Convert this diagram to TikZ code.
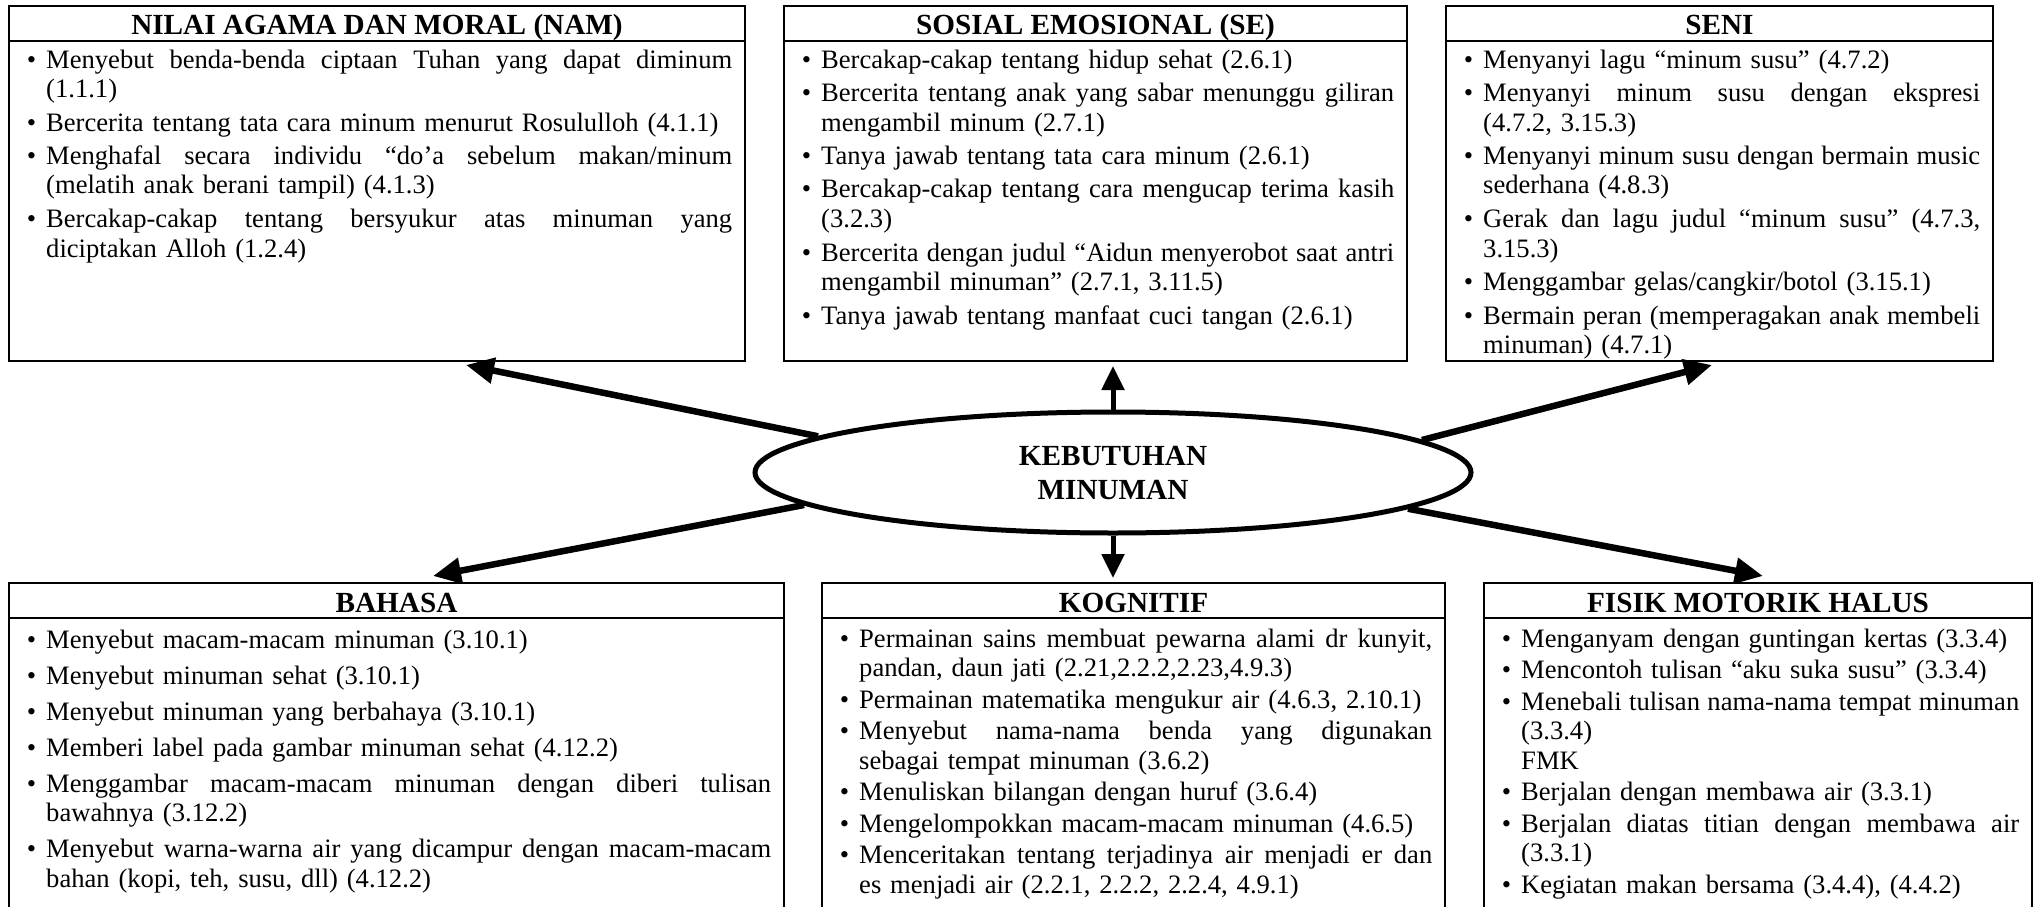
\documentclass[tikz,border=0pt]{standalone}
\usepackage{fontspec}
\setmainfont{Liberation Serif}
\usetikzlibrary{shapes.geometric,arrows.meta}
\newcommand\bodyfont{\fontsize{26.6pt}{29.5pt}\selectfont}
\newcommand\headfont{\fontsize{29.2pt}{34pt}\selectfont\bfseries}
\newlength\itemgap
\setlength\itemgap{4pt}
\newlength\tw
\newcommand\bfirst{\noindent\llap{\textbullet\hspace{10pt}}}
\newcommand\bnext{\par\vspace{\itemgap}\noindent\llap{\textbullet\hspace{10pt}}}
\newcommand\jl[1]{\hbox to\tw{\spaceskip=\fontdimen2\font plus 1fil minus \fontdimen4\font\relax #1}\newline}
\tikzset{
  panel/.style={draw, line width=2.6pt, anchor=north west, inner sep=0pt, outer sep=0pt},
  rulel/.style={line width=2.6pt},
  ttl/.style={font=\headfont, anchor=base, inner sep=0pt},
  body/.style={font=\bodyfont, anchor=base west, inner sep=0pt},
  hub/.style={ellipse, draw, line width=5pt, minimum width=716pt, minimum height=121pt,
              inner sep=0pt, align=center, font=\headfont},
  arrD/.style={line width=6.5pt, -{Triangle[length=28pt,width=25pt]}},
  arrV/.style={line width=5pt, -{Triangle[length=24pt,width=22pt]}},
}
\begin{document}
\begin{tikzpicture}[x=1pt,y=-1pt]
\useasboundingbox (0,0) rectangle (2037,907);
\clip (0,0) rectangle (2037,907);
% top row
\node[panel, minimum width=736pt, minimum height=355pt] (nam) at (9,6) {};
\draw[rulel] (9,41) -- (745,41);
\node[ttl] (namT) at (377,35) {NILAI AGAMA DAN MORAL (NAM)};
\node[body, text width=686pt] (namB) at (46,68) {\setlength\tw{686pt}%
\bfirst\jl{Menyebut benda-benda ciptaan Tuhan yang dapat diminum}(1.1.1)
\bnext Bercerita tentang tata cara minum menurut Rosululloh (4.1.1)
\bnext\jl{Menghafal secara individu “do’a sebelum makan/minum}(melatih anak berani tampil) (4.1.3)
\bnext\jl{Bercakap-cakap tentang bersyukur atas minuman yang}diciptakan Alloh (1.2.4)};

\node[panel, minimum width=623pt, minimum height=355pt] (se) at (784,6) {};
\draw[rulel] (784,41) -- (1407,41);
\node[ttl] (seT) at (1095.5,35) {SOSIAL EMOSIONAL (SE)};
\node[body, text width=573pt] (seB) at (821,68) {\setlength\tw{573pt}%
\bfirst Bercakap-cakap tentang hidup sehat (2.6.1)
\bnext\jl{Bercerita tentang anak yang sabar menunggu giliran}mengambil minum (2.7.1)
\bnext Tanya jawab tentang tata cara minum (2.6.1)
\bnext\jl{Bercakap-cakap tentang cara mengucap terima kasih}(3.2.3)
\bnext\jl{Bercerita dengan judul “Aidun menyerobot saat antri}mengambil minuman” (2.7.1, 3.11.5)
\bnext Tanya jawab tentang manfaat cuci tangan (2.6.1)};

\node[panel, minimum width=547pt, minimum height=355pt] (seni) at (1446,6) {};
\draw[rulel] (1446,41) -- (1993,41);
\node[ttl] (seniT) at (1719.5,35) {SENI};
\node[body, text width=497pt] (seniB) at (1483,68) {\setlength\tw{497pt}%
\bfirst Menyanyi lagu “minum susu” (4.7.2)
\bnext\jl{Menyanyi minum susu dengan ekspresi}(4.7.2, 3.15.3)
\bnext\jl{Menyanyi minum susu dengan bermain music}sederhana (4.8.3)
\bnext\jl{Gerak dan lagu judul “minum susu” (4.7.3,}3.15.3)
\bnext Menggambar gelas/cangkir/botol (3.15.1)
\bnext\jl{Bermain peran (memperagakan anak membeli}minuman) (4.7.1)};

% bottom row
\node[panel, minimum width=775pt, minimum height=345pt] (bah) at (9,583) {};
\draw[rulel] (9,618) -- (784,618);
\node[ttl] (bahT) at (396.5,612) {BAHASA};
\node[body, text width=725pt] (bahB) at (46,648) {\setlength\tw{725pt}\setlength\itemgap{6.5pt}%
\bfirst Menyebut macam-macam minuman (3.10.1)
\bnext Menyebut minuman sehat (3.10.1)
\bnext Menyebut minuman yang berbahaya (3.10.1)
\bnext Memberi label pada gambar minuman sehat (4.12.2)
\bnext\jl{Menggambar macam-macam minuman dengan diberi tulisan}bawahnya (3.12.2)
\bnext\jl{Menyebut warna-warna air yang dicampur dengan macam-macam}bahan (kopi, teh, susu, dll) (4.12.2)};

\node[panel, minimum width=623pt, minimum height=345pt] (kog) at (822,583) {};
\draw[rulel] (822,618) -- (1445,618);
\node[ttl] (kogT) at (1133.5,612) {KOGNITIF};
\node[body, text width=573pt] (kogB) at (859,647) {\setlength\tw{573pt}\setlength\itemgap{2pt}%
\bfirst\jl{Permainan sains membuat pewarna alami dr kunyit,}pandan, daun jati (2.21,2.2.2,2.23,4.9.3)
\bnext Permainan matematika mengukur air (4.6.3, 2.10.1)
\bnext\jl{Menyebut nama-nama benda yang digunakan}sebagai tempat minuman (3.6.2)
\bnext Menuliskan bilangan dengan huruf (3.6.4)
\bnext Mengelompokkan macam-macam minuman (4.6.5)
\bnext\jl{Menceritakan tentang terjadinya air menjadi er dan}es menjadi air (2.2.1, 2.2.2, 2.2.4, 4.9.1)};

\node[panel, minimum width=548pt, minimum height=345pt] (fis) at (1484,583) {};
\draw[rulel] (1484,618) -- (2032,618);
\node[ttl] (fisT) at (1758,612) {FISIK MOTORIK HALUS};
\node[body, text width=498pt] (fisB) at (1521,647) {\setlength\tw{498pt}\setlength\itemgap{2pt}%
\bfirst Menganyam dengan guntingan kertas (3.3.4)
\bnext Mencontoh tulisan “aku suka susu” (3.3.4)
\bnext\jl{Menebali tulisan nama-nama tempat minuman}(3.3.4)\newline FMK
\bnext Berjalan dengan membawa air (3.3.1)
\bnext\jl{Berjalan diatas titian dengan membawa air}(3.3.1)
\bnext Kegiatan makan bersama (3.4.4), (4.4.2)};

% hub
\node[hub] (ell) at (1113,472.5) {KEBUTUHAN\\MINUMAN};

\coordinate (tNAM) at (466,365);
\coordinate (tSE) at (1113,366);
\coordinate (tSENI) at (1712,365);
\coordinate (tBAH) at (433,576);
\coordinate (tKOG) at (1113,578);
\coordinate (tFIS) at (1763,576);

\draw[arrD] (ell.173.8) -- (tNAM);
\draw[arrV] (ell.north) -- (tSE);
\draw[arrD] (ell.6.3) -- (tSENI);
\draw[arrD] (ell.186.4) -- (tBAH);
\draw[arrV] (ell.south) -- (tKOG);
\draw[arrD] (ell.353.5) -- (tFIS);
\end{tikzpicture}
\end{document}
